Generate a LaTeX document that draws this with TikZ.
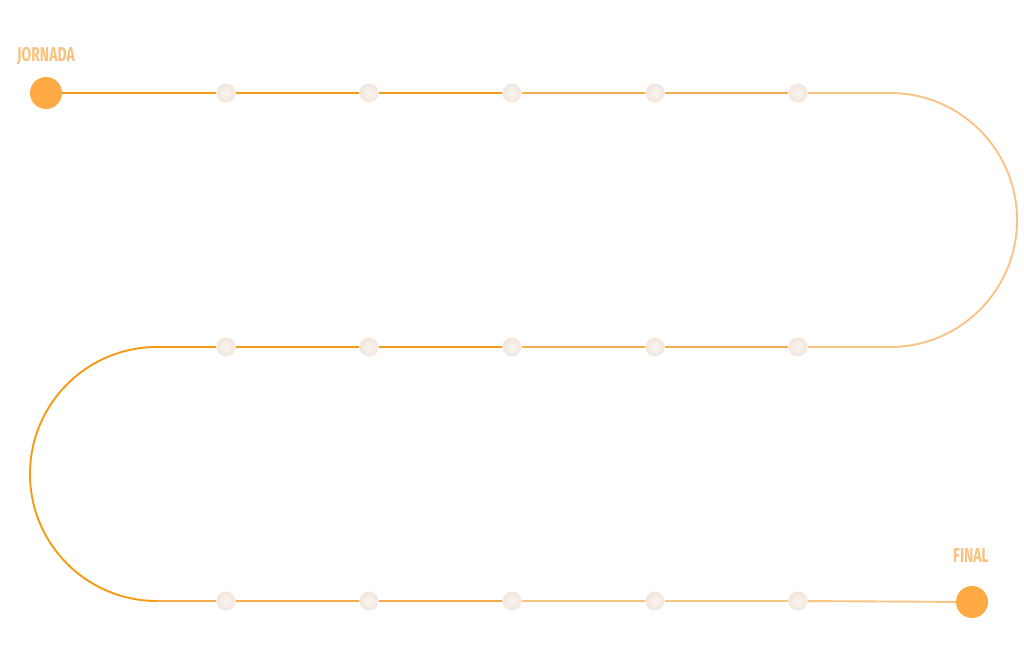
\documentclass[tikz,border=0pt]{standalone}
\usepackage{fontspec}
\setmainfont{Fira Sans}
\usetikzlibrary{positioning}

\definecolor{deeporange}{HTML}{F59A14}
\definecolor{midorange}{HTML}{F7AE4A}
\definecolor{paleorange}{HTML}{F9C384}
\definecolor{dotorange}{HTML}{FFAA44}
\definecolor{stoncream}{HTML}{F2E6DC}
\definecolor{labelorange}{HTML}{F8C27E}

\begin{document}
\begin{tikzpicture}[x=1pt, y=-1pt, node distance=143pt, on grid]
                \tikzset{
                    bigdot/.style={circle, minimum size=32pt, inner sep=0pt, fill=dotorange},
                    stone/.style={circle, minimum size=19pt, inner sep=0pt, inner color=white!60!stoncream, outer color=stoncream, draw=none},
                    tag/.style={font=\bfseries\fontsize{20}{20}\selectfont, text=labelorange, xscale=0.7, inner sep=0pt},
                    track/.style={line width=1.9pt}
                }
                \useasboundingbox (0,0) rectangle (1024,663);

                % endpoints
                \node[bigdot] (start) at (46,93) {};
                \node[bigdot] (stop) at (972,602) {};
                \node[tag] (jornada) at (46,56) {JORNADA};
                \node[tag] (final) at (971,556) {FINAL};

                % turning points
                \coordinate (r1) at (890,93);
                \coordinate (r2) at (890,347);
                \coordinate (l1) at (157,347);
                \coordinate (l2) at (157,601);

                % stones
                \node[stone] (a1) at (226,93) {};
                \node[stone] (a2) [right=of a1] {};
                \node[stone] (a3) [right=of a2] {};
                \node[stone] (a4) [right=of a3] {};
                \node[stone] (a5) [right=of a4] {};

                \node[stone] (b1) at (226,347) {};
                \node[stone] (b2) [right=of b1] {};
                \node[stone] (b3) [right=of b2] {};
                \node[stone] (b4) [right=of b3] {};
                \node[stone] (b5) [right=of b4] {};

                \node[stone] (c1) at (226,601) {};
                \node[stone] (c2) [right=of c1] {};
                \node[stone] (c3) [right=of c2] {};
                \node[stone] (c4) [right=of c3] {};
                \node[stone] (c5) [right=of c4] {};

                \path[track]
                    (start) edge[deeporange] (a1)
                    (a1) edge[deeporange] (a2)
                    (a2) edge[deeporange] (a3)
                    (a3) edge[midorange] (a4)
                    (a4) edge[midorange] (a5)
                    (a5) edge[paleorange] (r1)
                    (b5) edge[paleorange] (r2)
                    (b4) edge[midorange] (b5)
                    (b3) edge[midorange] (b4)
                    (b2) edge[deeporange] (b3)
                    (b1) edge[deeporange] (b2)
                    (l1) edge[deeporange] (b1)
                    (l2) edge[midorange] (c1)
                    (c1) edge[midorange] (c2)
                    (c2) edge[midorange] (c3)
                    (c3) edge[paleorange] (c4)
                    (c4) edge[paleorange] (c5)
                    (c5) edge[paleorange] (stop);
                \draw[track, paleorange] (r1) arc[start angle=-90, end angle=90, radius=127];
                \draw[track, deeporange] (l1) arc[start angle=270, end angle=90, radius=127];

            \end{tikzpicture}
\end{document}
